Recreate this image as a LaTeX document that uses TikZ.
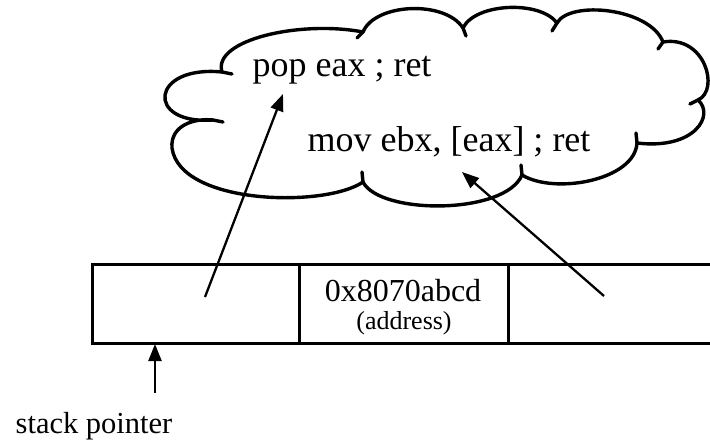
\documentclass[tikz,border=0pt]{standalone}
\usepackage{fontspec}
\setmainfont{Liberation Serif}
\usetikzlibrary{arrows.meta}
\begin{document}
\begin{tikzpicture}[x=1pt,y=1pt,
  cell/.style={draw,line width=2.6pt,minimum height=79pt,inner sep=0pt,anchor=south west},
  ptr/.style={-{Triangle[length=17pt,width=13pt]},line width=2.3pt},
  cloudline/.style={line width=3.4pt,line join=round,line cap=round},
  gadget/.style={font=\fontsize{36}{40}\selectfont,anchor=base,inner sep=0pt},
  addr/.style={font=\fontsize{32}{36}\selectfont,anchor=base,inner sep=0pt},
  note/.style={font=\fontsize{26}{30}\selectfont,anchor=base,inner sep=0pt},
  label/.style={font=\fontsize{30.5}{34}\selectfont,anchor=base,inner sep=0pt}]
\useasboundingbox (0,0) rectangle (710,440);
\clip (0,0) rectangle (710,440);
% cloud
\draw[cloudline] (222,368) .. controls (212,400) and (300,420) .. (363,408)
  .. controls (375,437) and (445,440) .. (463,412)
  .. controls (475,437) and (540,440) .. (557,417)
  .. controls (570,440) and (650,432) .. (663,398)
  .. controls (705,405) and (720,350) .. (698,340)
  .. controls (715,325) and (695,290) .. (637,297)
  .. controls (635,260) and (555,245) .. (522,265)
  .. controls (505,225) and (380,225) .. (363,258)
  .. controls (325,232) and (180,235) .. (172,292)
  .. controls (170,315) and (195,322) .. (213,320)
  .. controls (145,315) and (150,375) .. (222,368) -- cycle;
\draw[cloudline] (222,368) -- (232,366);
\draw[cloudline] (363,408) -- (357,402);
\draw[cloudline] (463,412) -- (466,404);
\draw[cloudline] (557,417) -- (552,409);
\draw[cloudline] (663,398) -- (658,391);
\draw[cloudline] (698,340) -- (690,336);
\draw[cloudline] (637,297) -- (636,307);
\draw[cloudline] (522,265) -- (521,275);
\draw[cloudline] (363,258) -- (362,268);
\draw[cloudline] (213,320) -- (223,318);
\node[gadget] (pop) at (342,363) {pop eax ; ret};
\node[gadget] (mov) at (449,288) {mov ebx, [eax] ; ret};
% stack
\node[cell,minimum width=207pt] (c1) at (91,95) {};
\node[cell,minimum width=209pt] (c2) at (298,95) {};
\node[cell,minimum width=240pt] (c3) at (507,95) {};
\node[addr] (val) at (403,139) {0x8070abcd};
\node[note] (adr) at (404,111) {(address)};
\node[label] (sp) at (94,7) {stack pointer};
% connectors
\coordinate (t1) at (205,143);
\coordinate (h1) at (283,346);
\coordinate (t2) at (604,144);
\coordinate (h2) at (462,268);
\coordinate (t3) at (155,47);
\coordinate (h3) at (155,96);
\draw[ptr] (t1) -- (h1);
\draw[ptr] (t2) -- (h2);
\draw[ptr] (t3) -- (h3);
\end{tikzpicture}
\end{document}
